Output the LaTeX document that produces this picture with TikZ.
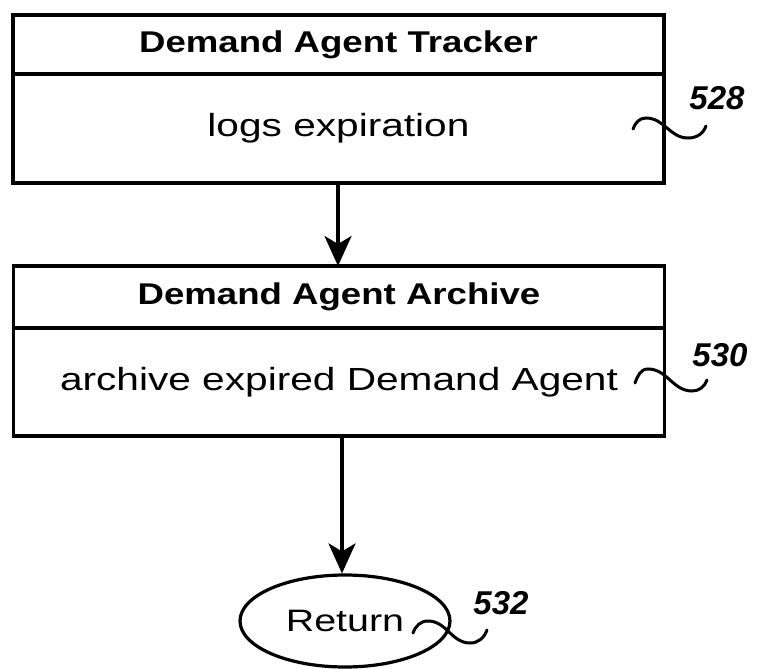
\documentclass[tikz,border=0pt]{standalone}
\usepackage{fontspec}
\setmainfont{Liberation Sans}
\newfontfamily\widesans[FakeStretch=1.27]{Liberation Sans}
\newfontfamily\widehead[FakeStretch=1.22]{Liberation Sans}
\usetikzlibrary{positioning,shapes.geometric,arrows.meta}

\tikzset{
  cell/.style={draw, line width=3.6pt, minimum width=651pt, inner sep=0pt, outer sep=0pt,
               font=\widesans\fontsize{32}{34}\selectfont},
  headcell/.style={cell, minimum height=59pt, font=\widehead\fontsize{30}{32}\selectfont\bfseries},
  bodycell/.style={cell, minimum height=109pt},
  flow/.style={line width=3.6pt, -{Stealth[length=30pt,width=27pt,inset=8pt]}},
  squig/.style={line width=3pt, line cap=round},
  refnum/.style={font=\fontsize{33}{35}\selectfont\bfseries\itshape}
}

\begin{document}
\begin{tikzpicture}[x=1pt,y=-1pt]
        \useasboundingbox (0,0) rectangle (761,669);

        % Demand Agent Tracker
        \node[headcell] (trkhead) at (338.5,44.5) {Demand Agent Tracker};
        \node[bodycell, below=0pt of trkhead] (trkbody) {logs expiration};

        % Demand Agent Archive
        \node[headcell, minimum height=62pt] (archead) at (339,297) {Demand Agent Archive};
        \node[bodycell, minimum height=108pt, below=0pt of archead] (arcbody) {archive expired Demand Agent};

        % Return
        \node[draw, ellipse, line width=3.2pt, minimum width=210pt, minimum height=92pt, inner sep=0pt,
              font=\widesans\fontsize{31}{33}\selectfont] (ret) at (345,621) {Return\hspace{14pt}};

        % Flow
        \draw[flow] (trkbody.south -| 338,0) -- (archead.north -| 338,0);
        \draw[flow] (arcbody.south -| 342,0) -- (ret.north -| 342,0);

        % Reference numerals
        \node[refnum] (r528) at (717,98) {528};
        \node[refnum] (r530) at (720,355) {530};
        \node[refnum] (r532) at (501,603) {532};

        \coordinate (s528) at (633,129);
        \coordinate (e528) at (706,126);
        \draw[squig] (s528) to[out=70,in=180] (646,118) to[out=0,in=180] (688,138) to[out=0,in=-110] (e528);

        \coordinate (s530) at (635,383);
        \coordinate (e530) at (707,380);
        \draw[squig] (s530) to[out=70,in=180] (648,369) to[out=0,in=180] (692,391) to[out=0,in=-110] (e530);

        \coordinate (s532) at (413,633);
        \coordinate (e532) at (487,630);
        \draw[squig] (s532) to[out=70,in=180] (428,621) to[out=0,in=180] (470,643) to[out=0,in=-110] (e532);

    \end{tikzpicture}
\end{document}
